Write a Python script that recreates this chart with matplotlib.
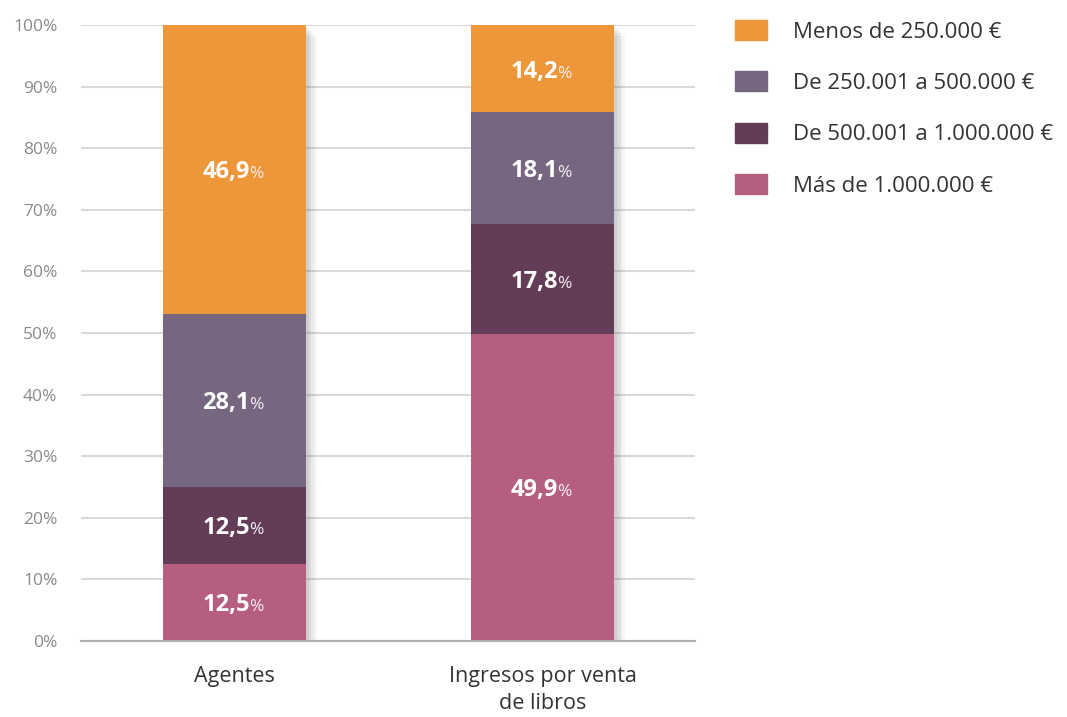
import matplotlib.pyplot as plt
import matplotlib.patches as mpatches
import matplotlib.patheffects as pe
import numpy as np

# Datos
categorias = ["Agentes", "Ingresos por venta\nde libros"]
tramos = ["Menos de 250.000 €", "De 250.001 a 500.000 €",
          "De 500.001 a 1.000.000 €", "Más de 1.000.000 €"]
# valores por tramo (de abajo a arriba)
mas_1m = [12.5, 49.9]
de_500_1m = [12.5, 17.8]
de_250_500 = [28.1, 18.1]
menos_250 = [46.9, 14.2]
colores = ["#EE963A", "#77667F", "#633C58", "#B55E80"]

plt.rcParams['font.family'] = ['Open Sans', 'DejaVu Sans']

fig = plt.figure(figsize=(10.67, 7.17), dpi=100)
ax = fig.add_axes([81/1067, 1 - 641/717, (695 - 81)/1067, (641 - 25)/717])

x = np.arange(len(categorias))
ancho = 0.464

series = [mas_1m, de_500_1m, de_250_500, menos_250]
cols = [colores[3], colores[2], colores[1], colores[0]]

# sombra suave de la barra completa
total = np.sum(series, axis=0)
for off, a in [(8, 0.06), (6, 0.08), (4, 0.10), (2, 0.10)]:
    fondo = ax.bar(x, total, ancho, color="white", zorder=2)
    for b in fondo:
        b.set_path_effects([pe.SimplePatchShadow(offset=(off, -off), shadow_rgbFace='#666666', alpha=a)])

base = np.zeros(len(categorias))
for vals, c in zip(series, cols):
    vals = np.array(vals)
    ax.bar(x, vals, ancho, bottom=base, color=c, zorder=3)
    for xi, v, b0 in zip(x, vals, base):
        y = b0 + v / 2
        num = f"{v:.1f}".replace(".", ",")
        ax.annotate(num, (xi, y), xytext=(11, -2), textcoords="offset points",
                    ha="right", va="center", color="white", fontsize=17,
                    fontweight="bold", zorder=5)
        ax.annotate("%", (xi, y), xytext=(10.5, -3.5), textcoords="offset points",
                    ha="left", va="center", color="#f4eef2", fontsize=12.5,
                    zorder=5)
    base = base + vals

ax.set_xlim(-0.498, 1.495)
ax.set_ylim(0, 100)
ax.set_yticks(np.arange(0, 101, 10))
ax.set_yticklabels([f"{t}%" for t in range(0, 101, 10)])
ax.yaxis.grid(True, color="#d9d9d9", linewidth=1.5, zorder=0)
ax.set_axisbelow(True)
for s in ["top", "right", "left"]:
    ax.spines[s].set_visible(False)
ax.spines["bottom"].set_color("#b0b0b0")
ax.spines["bottom"].set_linewidth(1.5)
ax.spines["bottom"].set_zorder(4)
ax.tick_params(axis="y", length=0, pad=17, labelsize=12.5, labelcolor="#8a8a8a")
ax.tick_params(axis="x", length=0, pad=18, labelsize=15.5, labelcolor="#333333")
ax.set_xticks(x)
ax.set_xticklabels(categorias, linespacing=1.4)

handles = [mpatches.Patch(color=c, label=t) for c, t in zip(colores, tramos)]
fig.legend(handles=handles, loc="upper left", bbox_to_anchor=(735/1067, 1 - 20/717),
           frameon=False, fontsize=16, handlelength=1.44, handleheight=1.0,
           handletextpad=1.17, labelspacing=1.3, borderpad=0, borderaxespad=0,
           labelcolor="#333333")

fig.savefig("out.png", dpi=100)
